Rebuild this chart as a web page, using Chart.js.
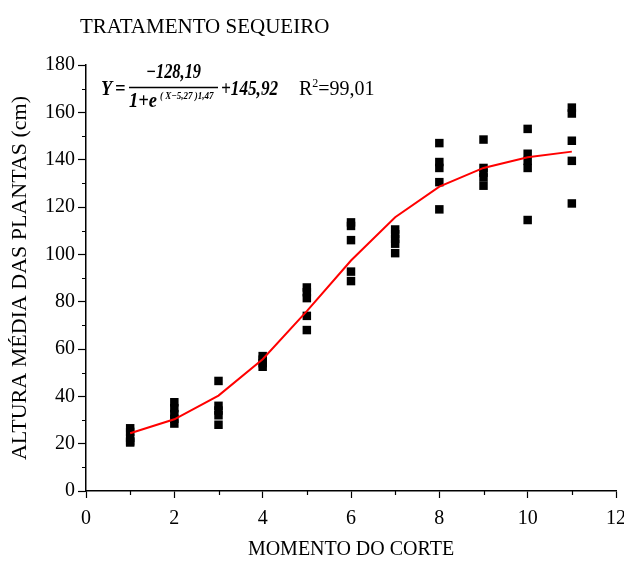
<!DOCTYPE html>
<html>
<head>
<meta charset="utf-8">
<title>Tratamento sequeiro</title>
<script src="https://cdn.jsdelivr.net/npm/chart.js@4.4.1/dist/chart.umd.min.js"></script>
<style>
    html, body { margin: 0; padding: 0; background: #ffffff; }
</style>
</head>
<body>
<canvas id="graficoSequeiro" width="624" height="563"></canvas>
<script>
var momento = [1, 2, 3, 4, 5, 6, 7, 8, 9, 10, 11];

// alturas observadas em cada corte (cm)
var alturas = [
    [26.5, 25, 22.5, 21, 20.5],
    [37.5, 35, 32.5, 30.5, 28.5],
    [46.5, 36, 34, 32, 28],
    [57, 55.5, 54, 52.5],
    [86, 84, 81.5, 74, 68],
    [113.5, 112, 106, 92.7, 88.7],
    [110.5, 108.5, 106.5, 104.5, 100.5],
    [147, 139, 136.5, 130.5, 119],
    [148.5, 136.5, 134.5, 132.5, 129],
    [153, 142.5, 139.5, 136.5, 114.5],
    [162, 159.5, 148, 139.5, 121.5]
];

// curva ajustada (modelo logistico)
var ajustado = [24.4, 30.3, 40.3, 55.7, 76.0, 97.4, 115.7, 128.6, 136.5, 141.0, 143.4];

var eixoX = [0, 2, 4, 6, 8, 10, 12];
var eixoY = [0, 20, 40, 60, 80, 100, 120, 140, 160, 180];

var fonte = "'Liberation Serif', 'Times New Roman', serif";

var pontos = [];
for (var i in momento) {
    for (var j in alturas[i]) {
        pontos.push({ x: momento[i], y: alturas[i][j] });
    }
}
var curva = [];
for (var k in momento) {
    curva.push({ x: momento[k], y: ajustado[k] });
}

// texto estreito (negrito italico da equacao)
function textoEstreito(ctx, txt, x, y, fator) {
    ctx.save();
    ctx.translate(x, y);
    ctx.scale(fator, 1);
    ctx.fillText(txt, 0, 0);
    ctx.restore();
}

// tracinhos menores nos eixos + titulo e equacao
var extras = {
    id: 'extras',
    afterDraw: function (chart) {
        var ctx = chart.ctx;
        var sx = chart.scales.x, sy = chart.scales.y;
        var a = chart.chartArea;
        ctx.save();
        ctx.strokeStyle = '#000';
        ctx.lineWidth = 1.2;
        ctx.beginPath();
        for (var v = eixoX[0] + 1; v < eixoX[eixoX.length - 1]; v += 2) {
            var px = Math.round(sx.getPixelForValue(v)) + 0.5;
            ctx.moveTo(px, a.bottom);
            ctx.lineTo(px, a.bottom + 4);
        }
        for (var w = eixoY[0] + 10; w < eixoY[eixoY.length - 1]; w += 20) {
            var py = Math.round(sy.getPixelForValue(w)) + 0.5;
            ctx.moveTo(a.left - 4, py);
            ctx.lineTo(a.left, py);
        }
        ctx.stroke();

        ctx.fillStyle = '#000';
        ctx.textBaseline = 'middle';
        ctx.textAlign = 'left';
        ctx.font = '21px ' + fonte;
        ctx.fillText('TRATAMENTO SEQUEIRO', 80, 27);

        ctx.textBaseline = 'alphabetic';
        ctx.font = 'italic bold 20px ' + fonte;
        textoEstreito(ctx, 'Y', 101, 95, 0.92);
        textoEstreito(ctx, '=', 115, 95, 0.92);
        textoEstreito(ctx, '\u2212128,19', 146, 78, 0.82);
        textoEstreito(ctx, '1+e', 129, 107, 0.92);
        textoEstreito(ctx, '+145,92', 221, 95, 0.86);
        ctx.font = 'italic bold 10px ' + fonte;
        textoEstreito(ctx, '( X\u22125,27 )1,47', 160, 99, 0.9);

        ctx.beginPath();
        ctx.lineWidth = 1.3;
        ctx.moveTo(129, 87.5);
        ctx.lineTo(218, 87.5);
        ctx.stroke();

        ctx.font = '20px ' + fonte;
        ctx.fillText('R', 299, 95);
        var rw = ctx.measureText('R').width;
        ctx.font = '12px ' + fonte;
        ctx.fillText('2', 299 + rw, 87);
        var dw = ctx.measureText('2').width;
        ctx.font = '20px ' + fonte;
        ctx.fillText('=99,01', 299 + rw + dw, 95);
        ctx.restore();
    }
};

var ctx = document.getElementById('graficoSequeiro');

var grafico = new Chart(ctx, {
    type: 'scatter',
    data: {
        datasets: [
            {
                label: 'Ajustado',
                data: curva,
                showLine: true,
                borderColor: '#ff0000',
                backgroundColor: '#ff0000',
                borderWidth: 2,
                pointRadius: 0,
                tension: 0,
                order: 0
            },
            {
                label: 'Observado',
                data: pontos,
                pointStyle: 'rect',
                pointRadius: 6,
                borderWidth: 0,
                backgroundColor: '#000',
                borderColor: '#000',
                order: 1
            }
        ]
    },
    options: {
        responsive: false,
        animation: false,
        devicePixelRatio: 1,
        layout: { padding: { top: 65, right: 8, left: 0, bottom: 0 } },
        plugins: {
            legend: { display: false },
            tooltip: { enabled: false }
        },
        scales: {
            x: {
                type: 'linear',
                min: eixoX[0],
                max: eixoX[eixoX.length - 1],
                afterFit: function (s) {
                    s.height = 72;
                    s.paddingLeft = 0;
                    s.paddingRight = 0;
                },
                border: { color: '#000', width: 1.5 },
                grid: { drawOnChartArea: false, color: '#000', tickLength: 7, tickWidth: 1.2 },
                ticks: { stepSize: 2, color: '#000', padding: 9, font: { family: fonte, size: 20 } },
                title: {
                    display: true,
                    text: 'MOMENTO DO CORTE',
                    color: '#000',
                    font: { family: fonte, size: 20 },
                    padding: { top: 0, bottom: 1 }
                }
            },
            y: {
                type: 'linear',
                min: eixoY[0],
                max: eixoY[eixoY.length - 1],
                afterFit: function (s) {
                    s.width = 86;
                    s.paddingTop = 0;
                    s.paddingBottom = 0;
                },
                border: { color: '#000', width: 1.5 },
                grid: { drawOnChartArea: false, color: '#000', tickLength: 8, tickWidth: 1.2 },
                ticks: { stepSize: 20, color: '#000', padding: 3, font: { family: fonte, size: 20 } },
                title: {
                    display: true,
                    text: 'ALTURA M\u00c9DIA DAS PLANTAS (cm)',
                    color: '#000',
                    font: { family: fonte, size: 22 },
                    padding: { top: 7, bottom: 0 }
                }
            }
        }
    },
    plugins: [extras]
});
</script>
</body>
</html>
